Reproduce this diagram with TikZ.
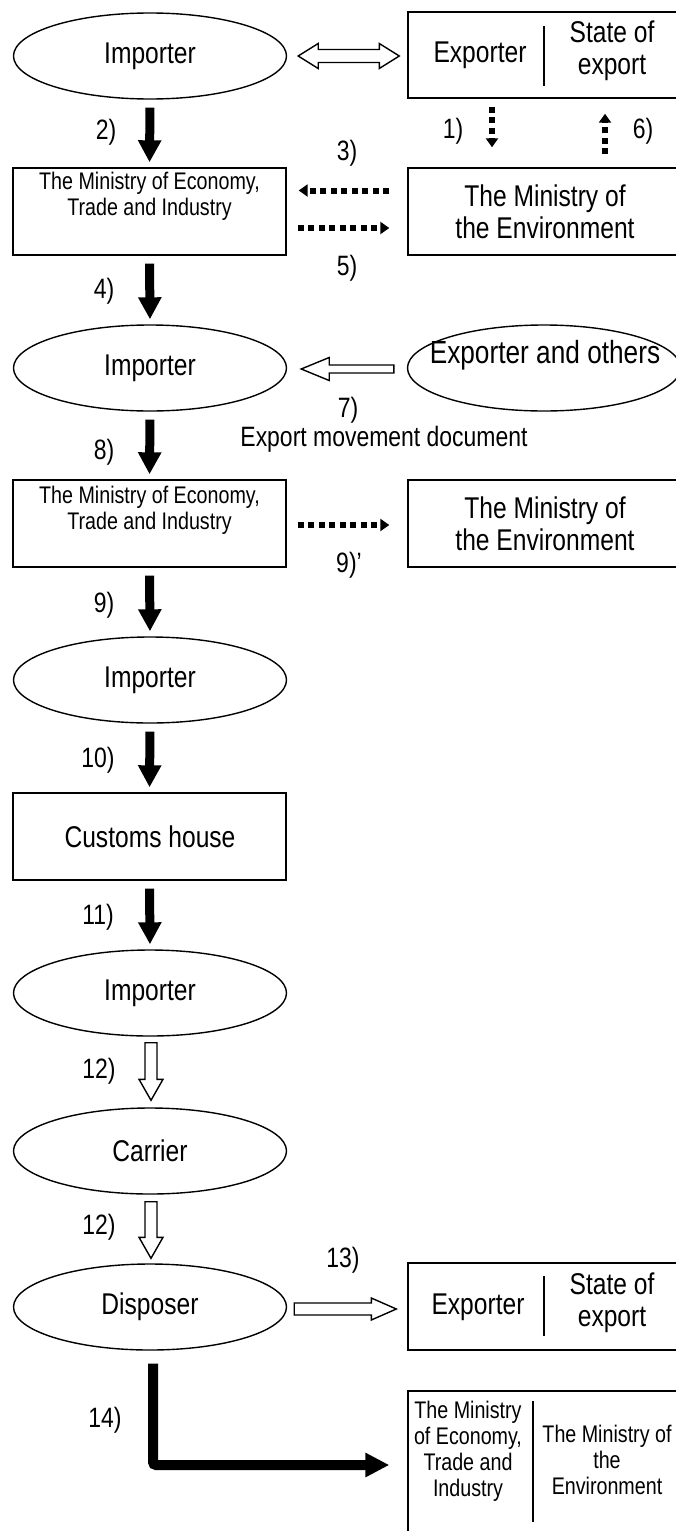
\documentclass[tikz,border=0pt]{standalone}
\usepackage{fontspec}
\setmainfont{Liberation Sans}[FakeStretch=0.82]
\usetikzlibrary{shapes.geometric,arrows.meta,calc}

\newcommand{\bigtxt}{\fontsize{30}{32}\selectfont}
\newcommand{\lbltxt}{\fontsize{28}{30}\selectfont}
\newcommand{\smalltxt}{\fontsize{24}{26}\selectfont}

\tikzset{
  oval/.style={ellipse, draw, line width=1.4pt, minimum width=273pt, minimum height=86pt, inner sep=0pt, font=\bigtxt},
  lbox/.style={draw, line width=1.4pt, minimum width=273pt, minimum height=87pt, inner sep=0pt},
  rbox/.style={draw, line width=1.4pt, minimum width=272pt, minimum height=87pt, inner sep=0pt},
  big/.style={inner sep=0pt, font=\bigtxt, align=center},
  small/.style={inner sep=0pt, font=\smalltxt, align=center},
  lbl/.style={inner sep=0pt, font=\lbltxt},
  divider/.style={line width=1.2pt},
  blk/.style={line width=9pt, -{Triangle[length=22pt,width=22pt]}, shorten <=8pt, shorten >=5pt},
  dots/.style={line width=6pt, dash pattern=on 6pt off 4.5pt, -{Triangle[length=9pt,width=12pt]}},
  hollow/.style={line width=1.4pt, fill=white, line join=miter}
}

% open block arrow from #1 to tip #2: half shaft, half head, head length
\newcommand{\hollowarrow}[5]{%
  \coordinate (ha) at (#1);
  \coordinate (hb) at (#2);
  \coordinate (hc) at ($(hb)!#5!(ha)$);
  \draw[hollow] ($(ha)!#3!90:(hb)$) -- ($(hc)!#3!-90:(ha)$) -- ($(hc)!#4!-90:(ha)$) -- (hb)
    -- ($(hc)!#4!90:(ha)$) -- ($(hc)!#3!90:(ha)$) -- ($(ha)!#3!-90:(hb)$) -- cycle;}
% same, with a head at both ends
\newcommand{\hollowdouble}[5]{%
  \coordinate (ha) at (#1);
  \coordinate (hb) at (#2);
  \coordinate (hc) at ($(ha)!#5!(hb)$);
  \coordinate (hd) at ($(hb)!#5!(ha)$);
  \draw[hollow] (ha) -- ($(hc)!#4!90:(hb)$) -- ($(hc)!#3!90:(hb)$) -- ($(hd)!#3!-90:(ha)$)
    -- ($(hd)!#4!-90:(ha)$) -- (hb) -- ($(hd)!#4!90:(ha)$) -- ($(hd)!#3!90:(ha)$)
    -- ($(hc)!#3!-90:(hb)$) -- ($(hc)!#4!-90:(hb)$) -- cycle;}

\begin{document}
\begin{tikzpicture}[x=1pt, y=-1pt]
  \useasboundingbox (0,0) rectangle (675,1531);

  % first request
  \node[oval] (imp1) at (150,56) {Importer};
  \node[rbox, minimum height=86pt] (exp1) at (544,55) {};
  \node[big] (exp1a) at (480,55) {Exporter};
  \node[big] (exp1b) at (612,51) {State of\\export};
  \draw[divider] ($(exp1.north)+(0,15)$) -- ($(exp1.south)+(0,-13)$);
  \hollowdouble{$(imp1.east)+(11,0)$}{$(imp1.east -| exp1.west)+(-8,0)$}{6.5pt}{12.5pt}{20pt}

  \node[lbox] (meti1) at (149.5,211.5) {};
  \node[small, anchor=north] (meti1t) at ($(meti1.north)+(0,5)$) {The Ministry of Economy,\\Trade and Industry};
  \node[rbox] (moe1) at (544,211.5) {};
  \node[big] (moe1t) at (545,211.5) {The Ministry of\\the Environment};

  \draw[blk] (imp1.south) -- (meti1.north);
  \node[lbl] (l2) at (106,132) {2)};
  \draw[dots, shorten <=8pt, shorten >=20pt] ($(exp1.south)+(-52,0)$) -- ($(moe1.north)+(-52,0)$);
  \node[lbl] (l1) at (453,131) {1)};
  \draw[dots, shorten <=13pt, shorten >=15pt] ($(moe1.north)+(61,0)$) -- ($(exp1.south)+(61,0)$);
  \node[lbl] (l6) at (643,131) {6)};
  \draw[dots, shorten <=18pt, shorten >=12pt] ($(moe1.west)+(0,-21)$) -- ($(meti1.east)+(0,-21)$);
  \node[lbl] (l3) at (347,153) {3)};
  \draw[dots, shorten <=11pt, shorten >=18pt] ($(meti1.east)+(0,16.5)$) -- ($(moe1.west)+(0,16.5)$);
  \node[lbl] (l5) at (347,268) {5)};

  % movement document
  \node[oval] (imp2) at (150,368) {Importer};
  \draw[blk] (meti1.south) -- (imp2.north);
  \node[lbl] (l4) at (104,291) {4)};
  \node[oval] (exp2) at (544,368) {};
  \node[big, font=\fontsize{32}{34}\selectfont] (exp2t) at (545,355) {Exporter and others};
  \hollowarrow{$(exp2.west)+(-13,1)$}{$(imp2.east)+(14,1)$}{4pt}{11.5pt}{28pt}
  \node[lbl] (l7) at (348,410) {7)};
  \node[lbl] (ldoc) at (384,439) {Export movement document};

  \node[lbox] (meti2) at (149.5,523.5) {};
  \node[small, anchor=north] (meti2t) at ($(meti2.north)+(0,7)$) {The Ministry of Economy,\\Trade and Industry};
  \node[rbox] (moe2) at (544,523.5) {};
  \node[big] (moe2t) at (545,523.5) {The Ministry of\\the Environment};
  \draw[blk] (imp2.south) -- (meti2.north);
  \node[lbl] (l8) at (104,452) {8)};
  \draw[dots, shorten <=11pt, shorten >=18pt] ($(meti2.east)+(0,1.5)$) -- ($(moe2.west)+(0,1.5)$);
  \node[lbl] (l9p) at (349,565) {9)'};

  % import
  \node[oval] (imp3) at (150,680) {Importer};
  \draw[blk] (meti2.south) -- (imp3.north);
  \node[lbl] (l9) at (104,605) {9)};
  \node[lbox] (customs) at (149.5,836.5) {};
  \node[big] (customst) at (150,836.5) {Customs house};
  \draw[blk] (imp3.south) -- (customs.north);
  \node[lbl] (l10) at (98,760) {10)};
  \node[oval] (imp4) at (150,993) {Importer};
  \draw[blk] (customs.south) -- (imp4.north);
  \node[lbl] (l11) at (98,917) {11)};

  % carriage and disposal
  \node[oval] (carrier) at (150,1151) {Carrier};
  \hollowarrow{$(imp4.south)+(1,6)$}{$(carrier.north)+(1,-7)$}{6pt}{12pt}{21pt}
  \node[lbl] (l12a) at (99,1071) {12)};
  \node[oval] (disp) at (150,1307) {Disposer};
  \hollowarrow{$(carrier.south)+(1,7)$}{$(disp.north)+(1,-5)$}{6pt}{12pt}{21pt}
  \node[lbl] (l12b) at (99,1227) {12)};

  \node[rbox] (exp3) at (544,1306.5) {};
  \node[big] (exp3a) at (478,1307) {Exporter};
  \node[big] (exp3b) at (612,1303) {State of\\export};
  \draw[divider] ($(exp3.north)+(0,14)$) -- ($(exp3.south)+(0,-15)$);
  \hollowarrow{$(disp.east)+(7,2)$}{$(disp.east -| exp3.west)+(-11,2)$}{6pt}{11pt}{25pt}
  \node[lbl] (l13) at (343,1260) {13)};

  \node[rbox, minimum height=148pt] (bot) at (544,1465) {};
  \node[small, anchor=north] (bota) at (468,1401) {The Ministry\\of Economy,\\Trade and\\Industry};
  \node[small, anchor=north] (botb) at (607,1425) {The Ministry of\\the\\Environment};
  \draw[divider] ($(bot.north)+(-11,11)$) -- ($(bot.north)+(-11,132)$);
  \draw[line width=10pt, rounded corners=3pt, shorten >=18pt, -{Triangle[length=24pt,width=23pt]}]
    ($(disp.south)+(3,13)$) |- (bot.west);
  \node[lbl] (l14) at (105,1420) {14)};
\end{tikzpicture}
\end{document}
